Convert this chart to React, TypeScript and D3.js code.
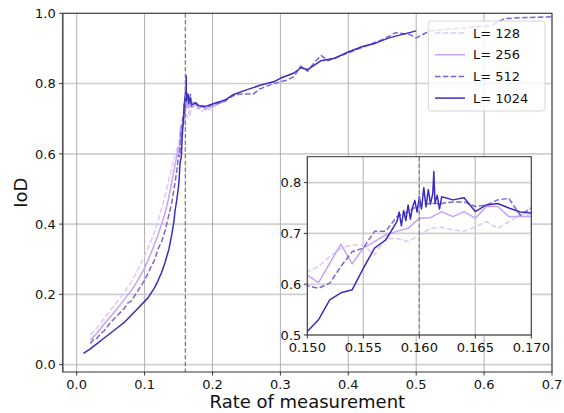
import React from 'react';
import * as d3 from 'd3';

// ---------- data ----------
const SERIES_LABELS = ['L= 128', 'L= 256', 'L= 512', 'L= 1024'];

// shared fine grid of rates around the transition (inset region)
const RATE_FINE = [0.150, 0.151, 0.152, 0.153, 0.154, 0.155, 0.156, 0.157, 0.158, 0.159, 0.160,
  0.161, 0.162, 0.163, 0.164, 0.165, 0.166, 0.167, 0.168, 0.169, 0.170];

// L = 128
const RATE_128_PRE = [0.02, 0.03, 0.04, 0.05, 0.06, 0.07, 0.08, 0.09, 0.10, 0.11, 0.115, 0.12, 0.125, 0.13,
  0.135, 0.14, 0.145, 0.148];
const IOD_128_PRE = [0.085, 0.105, 0.13, 0.156, 0.18, 0.205, 0.235, 0.27, 0.31, 0.355, 0.38, 0.41, 0.445,
  0.48, 0.52, 0.56, 0.60, 0.615];
const IOD_128_FINE = [0.625, 0.635, 0.654, 0.671, 0.677, 0.677, 0.658, 0.690, 0.690, 0.684, 0.697, 0.710,
  0.712, 0.707, 0.704, 0.713, 0.723, 0.710, 0.723, 0.736, 0.736];
const RATE_128_POST = [0.175, 0.18, 0.185, 0.19, 0.195, 0.20, 0.21, 0.22];
const IOD_128_POST = [0.728, 0.735, 0.722, 0.73, 0.725, 0.737, 0.745, 0.75];

// L = 256
const RATE_256_PRE = [0.02, 0.03, 0.04, 0.05, 0.06, 0.07, 0.08, 0.09, 0.10, 0.11, 0.115, 0.12, 0.125, 0.13,
  0.135, 0.14, 0.145, 0.148];
const IOD_256_PRE = [0.07, 0.09, 0.115, 0.137, 0.16, 0.185, 0.21, 0.24, 0.275, 0.32, 0.345, 0.37, 0.40,
  0.43, 0.47, 0.52, 0.57, 0.60];
const IOD_256_FINE = [0.618, 0.603, 0.641, 0.679, 0.640, 0.671, 0.684, 0.697, 0.704, 0.710, 0.730, 0.731,
  0.743, 0.733, 0.743, 0.730, 0.753, 0.753, 0.733, 0.734, 0.733];
const RATE_256_POST = [0.175, 0.18, 0.185, 0.19, 0.195, 0.20, 0.21, 0.22];
const IOD_256_POST = [0.742, 0.728, 0.738, 0.726, 0.735, 0.733, 0.744, 0.75];

// L = 512
const RATE_512_PRE = [0.02, 0.025, 0.03, 0.035, 0.04, 0.05, 0.06, 0.07, 0.075, 0.08, 0.09, 0.10, 0.11,
  0.115, 0.12, 0.125, 0.13, 0.135, 0.14, 0.145, 0.148];
const IOD_512_PRE = [0.06, 0.072, 0.075, 0.088, 0.095, 0.12, 0.14, 0.16, 0.175, 0.18, 0.21, 0.24, 0.28,
  0.30, 0.33, 0.35, 0.38, 0.42, 0.46, 0.52, 0.56];
const IOD_512_FINE = [0.597, 0.592, 0.602, 0.635, 0.664, 0.671, 0.704, 0.704, 0.733, 0.743, 0.756, 0.759,
  0.759, 0.762, 0.762, 0.753, 0.756, 0.766, 0.769, 0.736, 0.750];
const RATE_512_POST = [0.175, 0.18, 0.19, 0.20, 0.21, 0.22, 0.23, 0.24, 0.26, 0.27, 0.29, 0.31, 0.32, 0.33,
  0.34, 0.35, 0.36, 0.37, 0.39, 0.41, 0.43, 0.45, 0.47, 0.49, 0.50, 0.52, 0.55, 0.58, 0.61, 0.63, 0.66, 0.70];
const IOD_512_POST = [0.745, 0.735, 0.733, 0.74, 0.745, 0.752, 0.765, 0.77, 0.77, 0.785, 0.80, 0.81, 0.82,
  0.85, 0.835, 0.86, 0.88, 0.865, 0.88, 0.895, 0.91, 0.925, 0.945, 0.94, 0.93, 0.95, 0.955, 0.96, 0.965,
  0.985, 0.988, 0.99];

// L = 1024
const RATE_1024_PRE = [0.01, 0.02, 0.03, 0.04, 0.05, 0.06, 0.07, 0.08, 0.09, 0.10, 0.105, 0.11, 0.115,
  0.12, 0.125, 0.13, 0.133, 0.136, 0.14, 0.143, 0.145, 0.1475];
const IOD_1024_PRE = [0.032, 0.045, 0.06, 0.075, 0.09, 0.105, 0.12, 0.14, 0.16, 0.18, 0.19, 0.205, 0.22,
  0.24, 0.262, 0.29, 0.31, 0.33, 0.37, 0.405, 0.44, 0.47];
const RATE_1024_FINE = [0.150, 0.151, 0.152, 0.153, 0.154, 0.155, 0.156, 0.157, 0.158, 0.1582, 0.1584,
  0.1586, 0.1588, 0.1590, 0.1592, 0.1594, 0.1596, 0.1598, 0.1600, 0.1602, 0.1604, 0.1606, 0.1608, 0.1610,
  0.1612, 0.1613, 0.1614, 0.1616, 0.1618, 0.1620, 0.163, 0.164, 0.165, 0.166, 0.167, 0.168, 0.169, 0.170];
const IOD_1024_FINE = [0.507, 0.530, 0.569, 0.583, 0.589, 0.631, 0.671, 0.687, 0.723, 0.742, 0.715,
  0.745, 0.725, 0.756, 0.728, 0.752, 0.765, 0.742, 0.772, 0.748, 0.790, 0.752, 0.786, 0.758,
  0.778, 0.822, 0.760, 0.775, 0.748, 0.772, 0.766, 0.770, 0.743, 0.756, 0.759, 0.750, 0.742, 0.740];
const RATE_1024_POST = [0.175, 0.18, 0.19, 0.20, 0.21, 0.22, 0.23, 0.25, 0.27, 0.29, 0.30, 0.32, 0.33, 0.34,
  0.36, 0.38, 0.40, 0.42, 0.44, 0.46, 0.48, 0.50];
const IOD_1024_POST = [0.745, 0.737, 0.735, 0.742, 0.748, 0.755, 0.768, 0.782, 0.795, 0.805, 0.815, 0.83,
  0.845, 0.84, 0.865, 0.872, 0.89, 0.905, 0.915, 0.93, 0.94, 0.95];

const X_TICKS = [0.0, 0.1, 0.2, 0.3, 0.4, 0.5, 0.6, 0.7];
const Y_TICKS = [0.0, 0.2, 0.4, 0.6, 0.8, 1.0];
const INSET_X_TICKS = [0.150, 0.155, 0.160, 0.165, 0.170];
const INSET_Y_TICKS = [0.5, 0.6, 0.7, 0.8];
const CRITICAL_RATE = 0.16;

// ---------- styling ----------
const COLORS = ['#dcc8f8', '#c6a2f5', '#7a66d8', '#3b2cc0'];
const DASHES = ['5.5,2.4', null, '5.5,2.4', null];
const FONT = 'DejaVu Sans, sans-serif';

type Pt = [number, number];
function zip(xs: number[], ys: number[]): Pt[] {
  return xs.map((v, i) => [v, ys[i]] as Pt);
}

const SERIES: Pt[][] = [
  [...zip(RATE_128_PRE, IOD_128_PRE), ...zip(RATE_FINE, IOD_128_FINE), ...zip(RATE_128_POST, IOD_128_POST)],
  [...zip(RATE_256_PRE, IOD_256_PRE), ...zip(RATE_FINE, IOD_256_FINE), ...zip(RATE_256_POST, IOD_256_POST)],
  [...zip(RATE_512_PRE, IOD_512_PRE), ...zip(RATE_FINE, IOD_512_FINE), ...zip(RATE_512_POST, IOD_512_POST)],
  [...zip(RATE_1024_PRE, IOD_1024_PRE), ...zip(RATE_1024_FINE, IOD_1024_FINE), ...zip(RATE_1024_POST, IOD_1024_POST)],
];

export default function App() {
  const W = 564, H = 413;
  // main axes
  const x = d3.scaleLinear().domain([-0.0206, 0.7]).range([62.7, 552]);
  const y = d3.scaleLinear().domain([-0.021, 1.0]).range([372, 13.3]);
  const [L, R] = x.range();
  const [B, T] = y.range();
  // inset axes
  const ix = d3.scaleLinear().domain([0.15, 0.17]).range([307.3, 531.3]);
  const iy = d3.scaleLinear().domain([0.5, 0.851]).range([335, 156.7]);
  const [iL, iR] = ix.range();
  const [iB, iT] = iy.range();

  const mainLine = d3.line<Pt>().x(d => x(d[0])).y(d => y(d[1]));
  const insetLine = d3.line<Pt>().x(d => ix(d[0])).y(d => iy(d[1]));

  const fmt1 = d3.format('.1f');
  const fmt3 = d3.format('.3f');

  const legendX = 428.3, legendY = 21, legendW = 116.7, legendH = 90;
  const rowY = (i: number) => 33 + i * 21.7;

  return (
    <svg width={W} height={H} style={{ position: 'absolute', left: 0, top: 0, background: '#fff' }}
      fontFamily={FONT}>
      <defs>
        <clipPath id="mainClip"><rect x={L} y={T} width={R - L} height={B - T} /></clipPath>
        <clipPath id="insetClip"><rect x={iL} y={iT} width={iR - iL} height={iB - iT} /></clipPath>
      </defs>
      <rect x={0} y={0} width={W} height={H} fill="#fff" />

      {/* main grid */}
      {Y_TICKS.map(t => (
        <line key={'gy' + t} x1={L} x2={R} y1={y(t)} y2={y(t)} stroke="#cfcfcf" strokeWidth={1.6} />
      ))}
      {X_TICKS.map(t => (
        <line key={'gx' + t} x1={x(t)} x2={x(t)} y1={T} y2={B} stroke="#b0b0b0" strokeWidth={1} />
      ))}

      {/* main curves */}
      <g clipPath="url(#mainClip)">
        {SERIES.map((s, i) => (
          <path key={'m' + i} d={mainLine(s) || ''} fill="none" stroke={COLORS[i]} strokeWidth={1.5}
            strokeDasharray={DASHES[i] || undefined} strokeLinejoin="round" />
        ))}
        <line x1={x(CRITICAL_RATE)} x2={x(CRITICAL_RATE)} y1={T} y2={B} stroke="#808080"
          strokeWidth={1.3} strokeDasharray="4.5,2.2" />
      </g>

      {/* main spines */}
      <rect x={L} y={T} width={R - L} height={B - T} fill="none" stroke="#333" strokeWidth={1} />
      <line x1={L} x2={L} y1={T} y2={B} stroke="#555" strokeWidth={1.6} />

      {/* main ticks */}
      {X_TICKS.map(t => (
        <g key={'tx' + t}>
          <line x1={x(t)} x2={x(t)} y1={B} y2={B + 3.5} stroke="#333" strokeWidth={1} />
          <text x={x(t)} y={B + 17} textAnchor="middle" fontSize={13} fill="#111">{fmt1(t)}</text>
        </g>
      ))}
      {Y_TICKS.map(t => (
        <g key={'ty' + t}>
          <line x1={L - 3.5} x2={L} y1={y(t)} y2={y(t)} stroke="#333" strokeWidth={1} />
          <text x={L - 7} y={y(t)} dy="0.36em" textAnchor="end" fontSize={13} fill="#111">{fmt1(t)}</text>
        </g>
      ))}

      {/* axis labels */}
      <text x={(L + R) / 2} y={408} textAnchor="middle" fontSize={18} fill="#111">Rate of measurement</text>
      <text transform={`translate(27,${(T + B) / 2}) rotate(-90)`} textAnchor="middle" fontSize={18}
        fill="#111">IoD</text>

      {/* legend */}
      <rect x={legendX} y={legendY} width={legendW} height={legendH} rx={3} fill="#fff" fillOpacity={0.8}
        stroke="#d6d6d6" strokeWidth={1} />
      {SERIES_LABELS.map((lab, i) => (
        <g key={'lg' + i}>
          <line x1={435} x2={465} y1={rowY(i)} y2={rowY(i)} stroke={COLORS[i]} strokeWidth={1.5}
            strokeDasharray={DASHES[i] || undefined} />
          <text x={473} y={rowY(i)} dy="0.36em" fontSize={13} fill="#111">{lab}</text>
        </g>
      ))}

      {/* inset */}
      <rect x={iL} y={iT} width={iR - iL} height={iB - iT} fill="#fff" />
      {INSET_Y_TICKS.map(t => (
        <line key={'igy' + t} x1={iL} x2={iR} y1={iy(t)} y2={iy(t)} stroke="#cfcfcf" strokeWidth={1.6} />
      ))}
      {INSET_X_TICKS.map(t => (
        <line key={'igx' + t} x1={ix(t)} x2={ix(t)} y1={iT} y2={iB} stroke="#c8c8c8" strokeWidth={1.4} />
      ))}
      <g clipPath="url(#insetClip)">
        {SERIES.map((s, i) => (
          <path key={'in' + i} d={insetLine(s) || ''} fill="none" stroke={COLORS[i]} strokeWidth={1.5}
            strokeDasharray={DASHES[i] || undefined} strokeLinejoin="round" />
        ))}
        <line x1={ix(CRITICAL_RATE)} x2={ix(CRITICAL_RATE)} y1={iT} y2={iB} stroke="#8a8a8a"
          strokeWidth={1.3} strokeDasharray="4.5,2.2" />
      </g>
      <rect x={iL} y={iT} width={iR - iL} height={iB - iT} fill="none" stroke="#333" strokeWidth={1} />
      {INSET_X_TICKS.map(t => (
        <g key={'itx' + t}>
          <line x1={ix(t)} x2={ix(t)} y1={iB} y2={iB + 3.5} stroke="#333" strokeWidth={1} />
          <text x={ix(t)} y={iB + 17} textAnchor="middle" fontSize={13} fill="#111">{fmt3(t)}</text>
        </g>
      ))}
      {INSET_Y_TICKS.map(t => (
        <g key={'ity' + t}>
          <line x1={iL - 3.5} x2={iL} y1={iy(t)} y2={iy(t)} stroke="#333" strokeWidth={1} />
          <text x={iL - 6} y={iy(t)} dy="0.36em" textAnchor="end" fontSize={13} fill="#111">{fmt1(t)}</text>
        </g>
      ))}
    </svg>
  );
}
